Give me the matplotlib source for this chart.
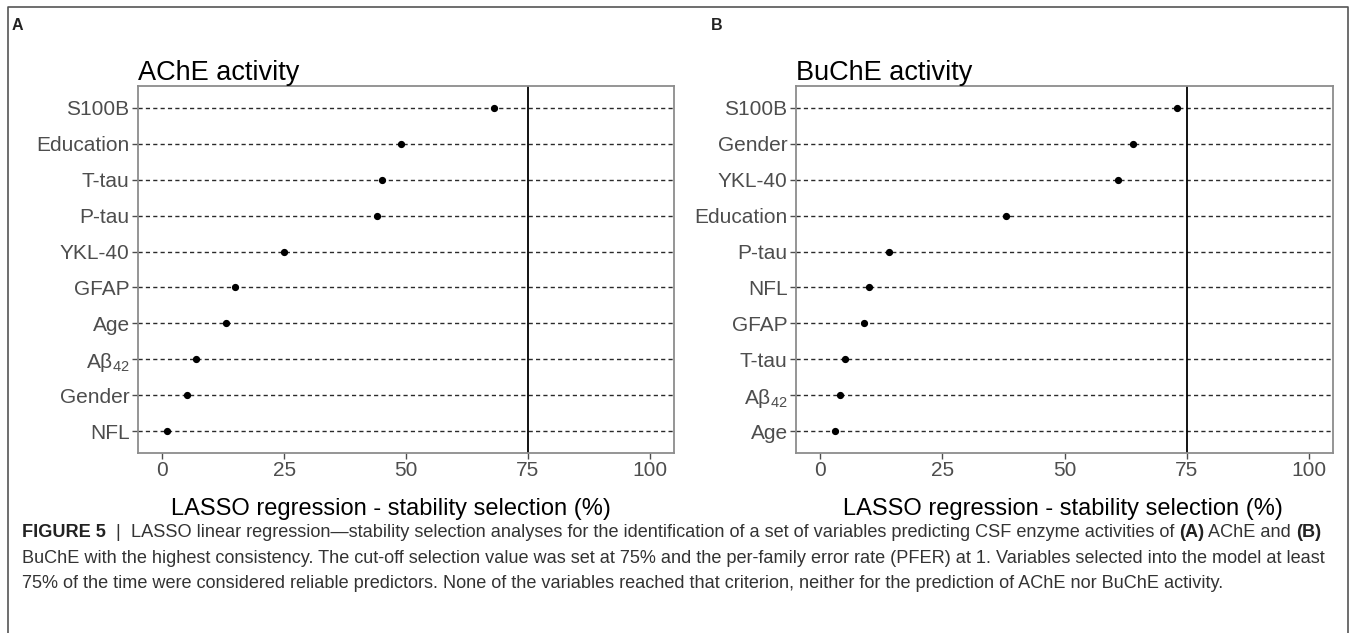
import matplotlib
matplotlib.use("Agg")
import matplotlib.pyplot as plt
from matplotlib.lines import Line2D

plt.rcParams['font.family'] = ['Liberation Sans', 'DejaVu Sans']
plt.rcParams['mathtext.fontset'] = 'custom'
plt.rcParams['mathtext.rm'] = 'Liberation Sans'
plt.rcParams['mathtext.it'] = 'Liberation Sans:italic'
plt.rcParams['mathtext.bf'] = 'Liberation Sans:bold'

# ---- data ----
ache_vars = ["S100B", "Education", "T-tau", "P-tau", "YKL-40", "GFAP", "Age",
             "Aβ$_{42}$", "Gender", "NFL"]
ache_vals = [68, 49, 45, 44, 25, 15, 13, 7, 5, 1]

buche_vars = ["S100B", "Gender", "YKL-40", "Education", "P-tau", "NFL", "GFAP",
              "T-tau", "Aβ$_{42}$", "Age"]
buche_vals = [73, 64, 61, 38, 14, 10, 9, 5, 4, 3]

x_ticks = [0, 25, 50, 75, 100]
cutoff = 75
titles = ["AChE activity", "BuChE activity"]
panel_letters = ["A", "B"]
xlabel = "LASSO regression - stability selection (%)"

W, H = 1354, 633
fig = plt.figure(figsize=(W / 100, H / 100), dpi=100)

def fx(px):
    return px / W

def fy(py):
    return 1 - py / H

# outer frame (left, top, right)
fig.add_artist(Line2D([fx(8), fx(8), fx(1348), fx(1348)],
                      [0, fy(7), fy(7), 0], transform=fig.transFigure,
                      color="#555555", lw=1.2))

axes_px = [(138, 674), (796, 1333)]
label_x = [0.472, 0.497]
letter_px = [12, 711]
top_px, bot_px = 86, 453

panels = [(ache_vars, ache_vals), (buche_vars, buche_vals)]
for i, ((vars_, vals), (l, r)) in enumerate(zip(panels, axes_px)):
    ax = fig.add_axes([fx(l), fy(bot_px), fx(r - l), (bot_px - top_px) / H])
    n = len(vars_)
    ypos = list(range(n))[::-1]
    for yv in ypos:
        ax.axhline(yv, color="#2a2a2a", lw=1.0, ls=(0, (3, 2.3)), zorder=1)
    ax.axvline(cutoff, color="black", lw=1.3, zorder=2)
    ax.plot(vals, ypos, "o", color="black", ms=4.2, zorder=3, ls="none")
    ax.set_xlim(-5, 105)
    ax.set_ylim(-0.6, n - 1 + 0.6)
    ax.set_yticks(ypos)
    ax.set_yticklabels(vars_)
    ax.set_xticks(x_ticks)
    ax.set_xticklabels([str(t) for t in x_ticks])
    ax.tick_params(axis="both", colors="#4d4d4d", labelcolor="#4d4d4d",
                   labelsize=15, length=4, width=1.0, pad=2)
    for s in ax.spines.values():
        s.set_color("#8c8c8c")
        s.set_linewidth(1.3)
    ax.set_xlabel(xlabel, fontsize=17, color="black", labelpad=13)
    ax.xaxis.label.set_x(label_x[i])
    ax.set_title(titles[i], fontsize=19.5, loc="left", color="black", pad=3)
    fig.text(fx(letter_px[i]), fy(26), panel_letters[i], fontsize=11.5,
             fontweight="bold", color="#222222", va="center", ha="left")

# caption with mixed bold runs
caption_lines = [
    [("FIGURE 5", "bold"), ("  |  ", "normal"),
     ("LASSO linear regression\u2014stability selection analyses for the identification of a set of variables predicting CSF enzyme activities of ", "normal"),
     ("(A)", "bold"), (" AChE and ", "normal"), ("(B)", "bold")],
    [("BuChE with the highest consistency. The cut-off selection value was set at 75% and the per-family error rate (PFER) at 1. Variables selected into the model at least", "normal")],
    [("75% of the time were considered reliable predictors. None of the variables reached that criterion, neither for the prediction of AChE nor BuChE activity.", "normal")],
]
line_base = [537, 563, 588]
cap_size = 13.1
cap_color = "#333333"
fig.canvas.draw()
renderer = fig.canvas.get_renderer()
for runs, yy in zip(caption_lines, line_base):
    x = 22
    for txt, wt in runs:
        t = fig.text(fx(x), fy(yy), txt, fontsize=cap_size, fontweight=wt,
                     color=cap_color if wt == "normal" else "#222222",
                     va="baseline", ha="left")
        bb = t.get_window_extent(renderer=renderer)
        x += bb.width

fig.savefig("out.png", dpi=100)
